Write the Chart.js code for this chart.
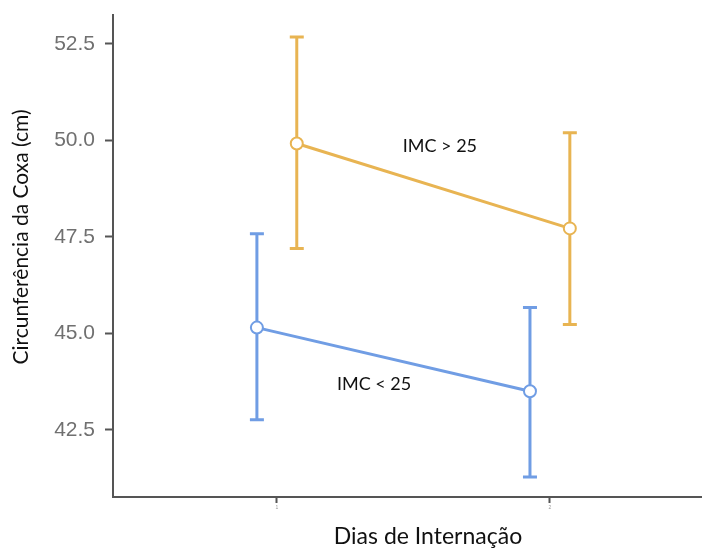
<!DOCTYPE html>
<html>
<head>
  <title>Circunferência da Coxa</title>
  <script src="https://cdn.jsdelivr.net/npm/chart.js"></script>
  <style>
    body { margin: 0; background: #fff; }
    #wrap { width: 702px; height: 548px; }
  </style>
</head>
<body>
  <div id="wrap"><canvas id="myChart" width="702" height="548"></canvas></div>

  <script>
    // dias de internação (1, 2), groups dodged left/right of each day
    const days = [1, 2];
    const dodge = 0.073;

    // IMC < 25
    const lowMean = [45.15, 43.5];
    const lowUpper = [47.58, 45.67];
    const lowLower = [42.76, 41.28];

    // IMC > 25
    const highMean = [49.92, 47.72];
    const highUpper = [52.68, 50.2];
    const highLower = [47.2, 45.23];

    const yTicks = [42.5, 45.0, 47.5, 50.0, 52.5];

    const blue = 'rgb(112, 157, 228)';
    const orange = 'rgb(232, 180, 82)';
    const textFont = 'Lato, "Open Sans", sans-serif';

    const lowPts = days.map((d, i) => ({ x: d - dodge, y: lowMean[i], lo: lowLower[i], hi: lowUpper[i] }));
    const highPts = days.map((d, i) => ({ x: d + dodge, y: highMean[i], lo: highLower[i], hi: highUpper[i] }));

    // error bars drawn under the points
    const errorBars = {
      id: 'errorBars',
      beforeDatasetsDraw(chart) {
        const { ctx, scales: { x, y } } = chart;
        chart.data.datasets.forEach(ds => {
          ctx.save();
          ctx.strokeStyle = ds.borderColor;
          ctx.lineWidth = 3;
          ds.data.forEach(p => {
            const px = x.getPixelForValue(p.x);
            const top = y.getPixelForValue(p.hi);
            const bot = y.getPixelForValue(p.lo);
            ctx.beginPath();
            ctx.moveTo(px, top); ctx.lineTo(px, bot);
            ctx.moveTo(px - 7, top); ctx.lineTo(px + 7, top);
            ctx.moveTo(px - 7, bot); ctx.lineTo(px + 7, bot);
            ctx.stroke();
          });
          ctx.restore();
        });
      }
    };

    // group labels and axis titles
    const labels = {
      id: 'labels',
      afterDatasetsDraw(chart) {
        const { ctx, scales: { x, y } } = chart;
        ctx.save();
        ctx.fillStyle = '#111';
        ctx.textAlign = 'center';
        ctx.textBaseline = 'middle';
        ctx.font = '18px ' + textFont;
        ctx.fillText('IMC > 25', x.getPixelForValue(1.597), y.getPixelForValue(49.85));
        ctx.fillText('IMC < 25', x.getPixelForValue(1.356), y.getPixelForValue(43.68));

        ctx.font = '23px ' + textFont;
        ctx.fillText('Dias de Internação', 428, 537);

        ctx.translate(21, 237);
        ctx.rotate(-Math.PI / 2);
        ctx.font = '21px ' + textFont;
        ctx.fillText('Circunferência da Coxa (cm)', 0, 0);
        ctx.restore();
      }
    };

    const ctx = document.getElementById('myChart').getContext('2d');
    new Chart(ctx, {
      type: 'line',
      data: {
        datasets: [
          {
            label: 'IMC < 25',
            data: lowPts,
            borderColor: blue,
            backgroundColor: '#fff',
            borderWidth: 3,
            pointRadius: 6,
            pointBorderWidth: 2,
            pointBackgroundColor: '#fff',
            pointBorderColor: blue
          },
          {
            label: 'IMC > 25',
            data: highPts,
            borderColor: orange,
            backgroundColor: '#fff',
            borderWidth: 3,
            pointRadius: 6,
            pointBorderWidth: 2,
            pointBackgroundColor: '#fff',
            pointBorderColor: orange
          }
        ]
      },
      options: {
        responsive: false,
        animation: false,
        layout: { autoPadding: false, padding: { top: 15, right: 0, left: 0, bottom: 0 } },
        plugins: {
          legend: { display: false },
          tooltip: { enabled: false }
        },
        scales: {
          x: {
            type: 'linear',
            min: 0.4,
            max: 2.557,
            afterBuildTicks: s => { s.ticks = days.map(v => ({ value: v })); },
            afterFit: s => { s.height = 51; s.paddingLeft = 0; s.paddingRight = 0; },
            ticks: {
              color: '#999',
              font: { size: 5 },
              padding: 2,
              callback: v => String(v)
            },
            grid: { drawOnChartArea: false, tickLength: 6, tickWidth: 2, color: '#555' },
            border: { color: '#555', width: 2 }
          },
          y: {
            min: 40.76,
            max: 53.25,
            afterBuildTicks: s => { s.ticks = yTicks.map(v => ({ value: v })); },
            afterFit: s => { s.width = 113; s.paddingTop = 0; s.paddingBottom = 0; },
            ticks: {
              color: '#707070',
              font: { family: '"Liberation Sans", Arial, sans-serif', size: 21 },
              padding: 10,
              callback: v => v.toFixed(1)
            },
            grid: { drawOnChartArea: false, tickLength: 8, tickWidth: 2, color: '#555' },
            border: { color: '#555', width: 2 }
          }
        }
      },
      plugins: [errorBars, labels]
    });
  </script>
</body>
</html>
